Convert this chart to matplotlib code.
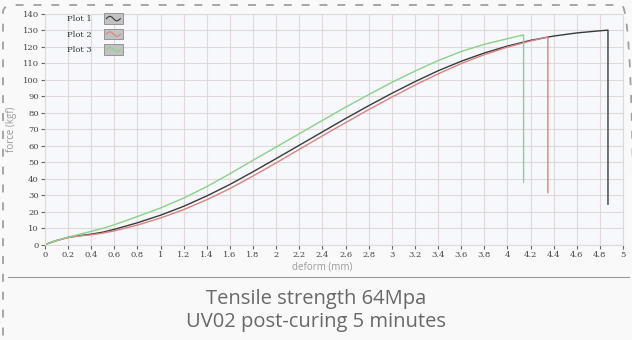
import numpy as np
import matplotlib
matplotlib.use("Agg")
import matplotlib.pyplot as plt
from matplotlib.legend_handler import HandlerBase
from matplotlib.patches import Rectangle, FancyBboxPatch
from matplotlib.lines import Line2D

# deform (mm) / force (kgf)
deform_1 = [0, 0.1, 0.2, 0.3, 0.4, 0.5, 0.6, 0.8, 1.0, 1.2, 1.4, 1.6, 1.8, 2.0, 2.2,
            2.4, 2.6, 2.8, 3.0, 3.2, 3.4, 3.6, 3.8, 4.0, 4.2, 4.4, 4.6, 4.8, 4.87, 4.87]
force_1 = [0, 2.4, 4.3, 5.4, 6.3, 7.5, 9.2, 13.2, 17.8, 23.2, 29.5, 36.5, 44.2, 52.2, 60.3,
           68.4, 76.5, 84.3, 91.8, 98.9, 105.5, 111.3, 116.3, 120.5, 124.0, 126.6, 128.5,
           129.8, 130.2, 24.5]

deform_2 = [0, 0.1, 0.2, 0.3, 0.4, 0.5, 0.6, 0.8, 1.0, 1.2, 1.4, 1.6, 1.8, 2.0, 2.2,
            2.4, 2.6, 2.8, 3.0, 3.2, 3.4, 3.6, 3.8, 4.0, 4.2, 4.35, 4.35]
force_2 = [0, 2.4, 4.3, 5.2, 5.9, 6.9, 8.3, 11.8, 16.1, 21.2, 27.2, 34.0, 41.6, 49.6, 57.8,
           66.0, 74.0, 81.9, 89.5, 96.8, 103.6, 109.9, 115.3, 119.9, 123.6, 126.0, 31.5]

deform_3 = [0, 0.1, 0.2, 0.3, 0.4, 0.5, 0.6, 0.8, 1.0, 1.2, 1.4, 1.6, 1.8, 2.0, 2.2,
            2.4, 2.6, 2.8, 3.0, 3.2, 3.4, 3.6, 3.8, 4.0, 4.14, 4.14]
force_3 = [0, 2.4, 4.5, 6.2, 8.0, 9.8, 12.0, 17.0, 22.2, 28.2, 35.2, 43.0, 51.2, 59.2, 67.3,
           75.4, 83.4, 91.0, 98.5, 105.3, 111.7, 117.2, 121.6, 125.0, 127.3, 38.0]

labels = ["Plot 1", "Plot 2", "Plot 3"]
colors = ["#3a3a3a", "#dc8282", "#8ad28a"]

x_ticks = np.round(np.arange(0, 5.01, 0.2), 1)
x_tick_labels = ["%g" % t for t in x_ticks]
y_ticks = np.arange(0, 141, 10)


class WaveHandler(HandlerBase):
    # grey swatch with a little sine wave, like the original legend icons
    def create_artists(self, legend, orig_handle, xdescent, ydescent,
                       width, height, fontsize, trans):
        box = Rectangle((-xdescent, -ydescent - 1), width, height + 2,
                        facecolor="#c2c2c2", edgecolor="#8a8a8a", lw=0.6,
                        transform=trans)
        xs = np.linspace(0, 1, 30)
        wx = -xdescent + width * (0.12 + 0.76 * xs)
        wy = -ydescent + height * (0.5 + 0.28 * np.sin(2 * np.pi * xs))
        wave = Line2D(wx, wy, color=orig_handle.get_color(), lw=0.8, transform=trans)
        return [box, wave]


fig = plt.figure(figsize=(6.32, 3.4), dpi=100, facecolor="#f9f9f9")
ax = fig.add_axes([45 / 632, 1 - 244.5 / 340, 578 / 632, 230.5 / 340])
ax.set_facecolor("#f6f8fb")

series = [(deform_1, force_1), (deform_2, force_2), (deform_3, force_3)]
handles = []
for (dx, fy), lab, col in zip(series, labels, colors):
    line, = ax.plot(dx, fy, color=col, lw=1.0, label=lab)
    handles.append(line)

ax.set_xlim(0, 5)
ax.set_ylim(0, 140)
ax.set_xticks(x_ticks)
ax.set_xticklabels(x_tick_labels)
ax.set_yticks(y_ticks)
ax.grid(True, color="#e0d8d9", lw=0.8)
ax.set_axisbelow(True)
for s in ax.spines.values():
    s.set_color("#e0d8d9")
    s.set_linewidth(0.8)

ax.tick_params(axis="both", length=3, width=0.8, color="#666666",
               labelsize=6, labelcolor="#444444", pad=1.5)
for lbl in ax.get_xticklabels() + ax.get_yticklabels():
    lbl.set_fontfamily("DejaVu Serif")

ax.set_xlabel("deform (mm)", fontsize=7, color="#9a9a9a", fontfamily="Open Sans")
ax.xaxis.set_label_coords(0.48, -0.075)
ax.set_ylabel("force (kgf)", fontsize=7, color="#9a9a9a", labelpad=4,
              fontfamily="Open Sans")

leg = ax.legend(handles=handles, handler_map={Line2D: WaveHandler()},
                loc="upper left", bbox_to_anchor=(0.025, 1.03), frameon=False,
                markerfirst=False, prop={"family": "DejaVu Serif", "size": 6},
                handlelength=2.2, handleheight=1.1, labelspacing=0.8, handletextpad=1.5)
for t in leg.get_texts():
    t.set_color("#333333")

# dashed rounded frame; right and bottom edges sit just past the picture
frame = FancyBboxPatch((3 / 632, -4 / 340), 631 / 632, 339 / 340,
                       boxstyle="round,pad=0,rounding_size=0.02",
                       transform=fig.transFigure, fill=False,
                       edgecolor="#a0a0a0", lw=1.3, ls=(0, (4.4, 5.5)))
fig.patches.append(frame)

# separator line above the caption
fig.add_artist(Line2D([8 / 632, 629 / 632], [1 - 277 / 340] * 2,
                      transform=fig.transFigure, color="#9a9a9a", lw=0.8))

fig.text(0.5, 1 - 304 / 340, "Tensile strength 64Mpa", ha="center", va="baseline",
         fontsize=14.5, color="#686868", fontfamily="Open Sans")
fig.text(0.5, 1 - 327 / 340, "UV02 post-curing 5 minutes", ha="center", va="baseline",
         fontsize=14.5, color="#686868", fontfamily="Open Sans")

fig.savefig("out.png", dpi=100, facecolor=fig.get_facecolor())
